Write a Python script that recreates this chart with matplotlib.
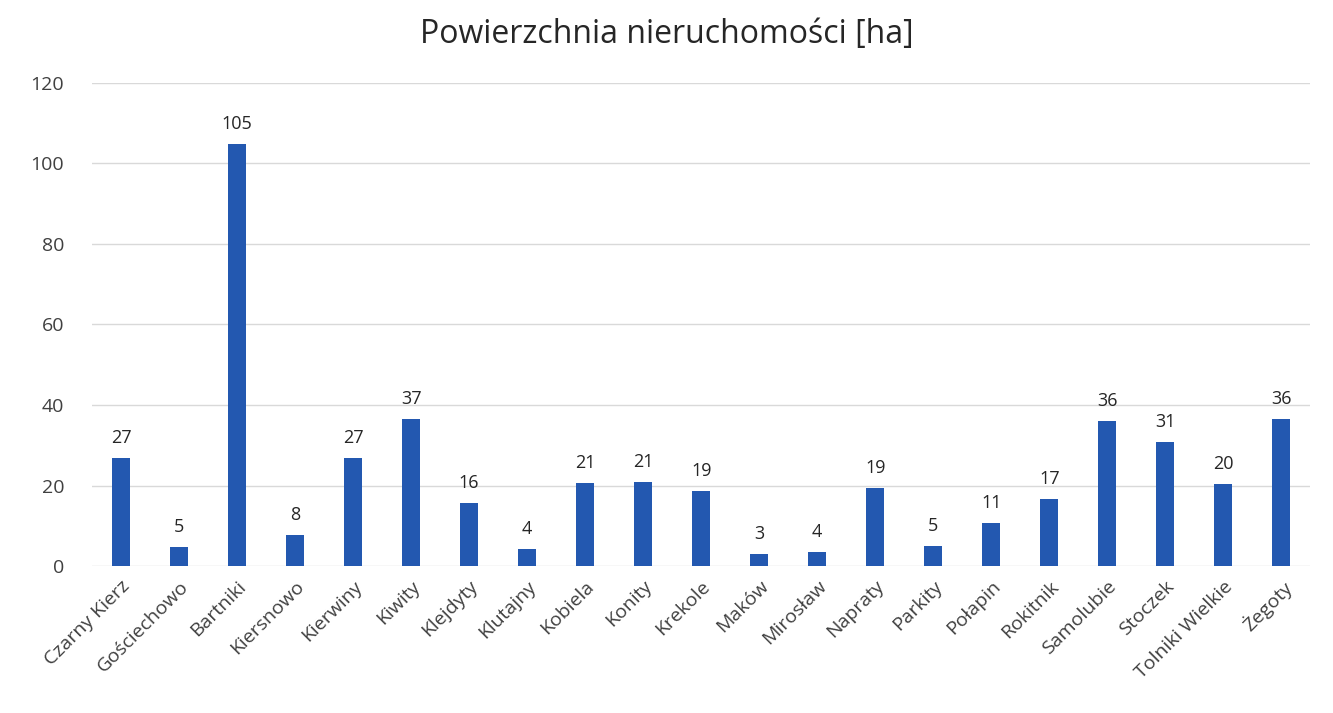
import matplotlib.pyplot as plt

plt.rcParams['font.family'] = ['Open Sans', 'DejaVu Sans']

miejscowosci: list[str] = ["Czarny Kierz", "Gościechowo", "Bartniki", "Kiersnowo", "Kierwiny", "Kiwity",
                           "Klejdyty", "Klutajny", "Kobiela", "Konity", "Krekole", "Maków", "Mirosław",
                           "Napraty", "Parkity", "Połapin", "Rokitnik", "Samolubie", "Stoczek",
                           "Tolniki Wielkie", "Żegoty"]
powierzchnia: list[float] = [26.8, 4.8, 104.8, 7.8, 26.8, 36.6, 15.6, 4.2, 20.7, 20.9, 18.7, 3.1, 3.6,
                             19.3, 5.0, 10.6, 16.7, 36.0, 30.7, 20.3, 36.4]
yTicks: range = range(0, 121, 20)

fig = plt.figure(figsize=(13.33, 7.13), dpi=100)
ax = fig.add_axes([0.069, 0.206, 0.914, 0.678])

x = range(len(miejscowosci))
ax.bar(x, powierzchnia, width=0.31, color="#2358B0", zorder=3)
for xi, v in zip(x, powierzchnia):
    ax.annotate(f"{v:.0f}", (xi, v), xytext=(0, 8), textcoords="offset points",
                ha="center", va="bottom", fontsize=13, color="#262626")

ax.set_xlim(-0.5, len(miejscowosci) - 0.5)
ax.set_ylim(0, 120)
ax.set_yticks(yTicks)
ax.set_xticks(list(x))
ax.set_xticklabels(miejscowosci, rotation=45, ha="right", rotation_mode="anchor")
ax.tick_params(axis="both", length=0, labelsize=14, labelcolor="#404040")
ax.tick_params(axis="y", pad=20)
ax.tick_params(axis="x", pad=8)
ax.grid(axis="y", color="#D9D9D9", linewidth=1, zorder=0)
for s in ax.spines.values():
    s.set_visible(False)

fig.suptitle("Powierzchnia nieruchomości [ha]", y=0.975, fontsize=23, color="#262626")
fig.savefig("out.png", dpi=100)
